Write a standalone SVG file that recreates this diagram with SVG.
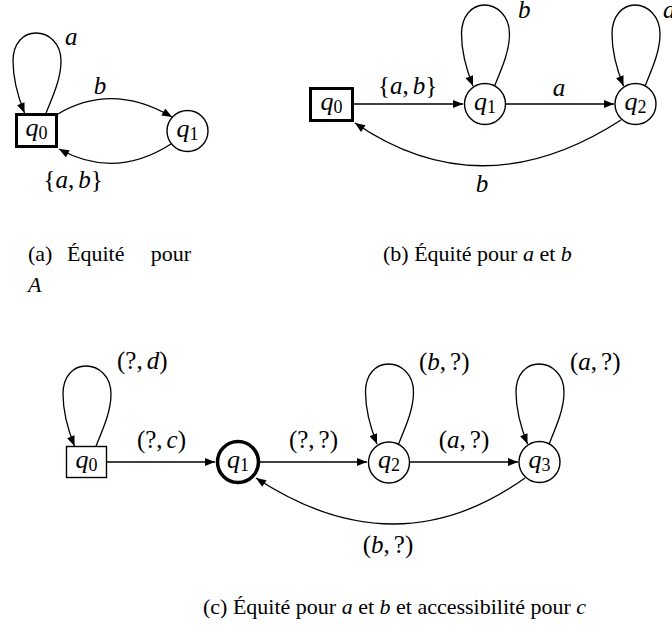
<svg xmlns="http://www.w3.org/2000/svg" width="672" height="639" viewBox="0 0 672 639" font-family="Liberation Serif, Times New Roman, serif">
<style>
text{font-family:'Liberation Serif','Times New Roman',serif;fill:#000}
.lb{font-size:25px}
.nd{font-size:26px}
.cap{font-size:22px}
.i{font-style:italic}
.st{fill:#fff;stroke:#000;stroke-width:1.4}
.init{fill:#fff;stroke:#000;stroke-width:3}
.acc{fill:#fff;stroke:#000;stroke-width:3.5}
.e{fill:none;stroke:#000;stroke-width:1.3;marker-end:url(#ah)}
</style>
<defs>
<marker id="ah" viewBox="0 0 10 8" refX="10" refY="4" markerWidth="11" markerHeight="8" markerUnits="userSpaceOnUse" orient="auto">
<path d="M0,0 L10,4 L0,8 z" fill="#000"/>
</marker>
</defs>
<rect width="672" height="639" fill="#fff"/>
<g id="connectors">
<path class="e" d="M 46 113 C 53.5 95, 61 78, 61 61 C 61 43, 48.5 33, 36 33 C 23.5 33, 13 43, 13 61 C 13 78, 18.5 98, 24.5 113"/>
<path class="e" d="M 58 114 Q 112 82 172 117"/>
<path class="e" d="M 171 144 Q 115 180 59 149"/>
<path class="e" d="M 354 104 L 463 104"/>
<path class="e" d="M 506 104 L 614 104"/>
<path class="e" d="M 494.5 86 C 502 68, 509.5 51, 509.5 34 C 509.5 16, 497 5, 484.5 5 C 472 5, 461.5 16, 461.5 34 C 461.5 51, 467 71, 473 86"/>
<path class="e" d="M 645 86 C 652.5 68, 660 51, 660 34 C 660 16, 647.5 5, 635 5 C 622.5 5, 612 16, 612 34 C 612 51, 617.5 71, 623.5 86"/>
<path class="e" d="M 621 120 Q 482 210 355 123"/>
<path class="e" d="M 96 446 C 103.5 428, 111 411, 111 394 C 111 376, 98.5 366, 86 366 C 73.5 366, 63 376, 63 394 C 63 411, 68.5 431, 74.5 446"/>
<path class="e" d="M 107 462 L 215 462"/>
<path class="e" d="M 259 462 L 367 462"/>
<path class="e" d="M 410 462 L 518 462"/>
<path class="e" d="M 398.5 444 C 406 426, 413.5 409, 413.5 392 C 413.5 374, 401 364, 388.5 364 C 376 364, 365.5 374, 365.5 392 C 365.5 409, 371 429, 377 444"/>
<path class="e" d="M 549 444 C 556.5 426, 564 409, 564 392 C 564 374, 551.5 364, 539 364 C 526.5 364, 516 374, 516 392 C 516 409, 521.5 429, 527.5 444"/>
<path class="e" d="M 525 478 Q 396 570 256 478"/>
</g>
<g id="edge-labels" class="lb">
<text x="65" y="45" class="i">a</text>
<text x="100" y="94" text-anchor="middle" class="i">b</text>
<text x="73" y="188" text-anchor="middle">{<tspan class="i">a</tspan>,<tspan class="i" dx="4">b</tspan>}</text>
<text x="407.5" y="94" text-anchor="middle">{<tspan class="i">a</tspan>,<tspan class="i" dx="4">b</tspan>}</text>
<text x="559" y="96" text-anchor="middle" class="i">a</text>
<text x="518" y="18" class="i">b</text>
<text x="663" y="18" class="i">a</text>
<text x="482" y="192" text-anchor="middle" class="i">b</text>
<text x="117" y="369">(?,<tspan class="i" dx="4">d</tspan>)</text>
<text x="161.5" y="448" text-anchor="middle">(?,<tspan class="i" dx="4">c</tspan>)</text>
<text x="313.5" y="448" text-anchor="middle">(?,<tspan dx="4">?</tspan>)</text>
<text x="464" y="448" text-anchor="middle">(<tspan class="i">a</tspan>,<tspan dx="4">?</tspan>)</text>
<text x="419" y="370">(<tspan class="i">b</tspan>,<tspan dx="4">?</tspan>)</text>
<text x="570" y="370">(<tspan class="i">a</tspan>,<tspan dx="4">?</tspan>)</text>
<text x="388" y="553" text-anchor="middle">(<tspan class="i">b</tspan>,<tspan dx="4">?</tspan>)</text>
</g>
<g id="a-q0"><rect class="init" x="16.5" y="114.5" width="40" height="32"/><text class="nd" x="36.5" y="136" text-anchor="middle"><tspan class="i">q</tspan><tspan font-size="18" dy="3">0</tspan></text></g>
<g id="a-q1"><circle class="st" cx="187.5" cy="131" r="20.5"/><text class="nd" x="187.5" y="136.5" text-anchor="middle"><tspan class="i">q</tspan><tspan font-size="18" dy="3">1</tspan></text></g>
<g id="b-q0"><rect class="init" x="310.5" y="88.5" width="42" height="32"/><text class="nd" x="331.5" y="110" text-anchor="middle"><tspan class="i">q</tspan><tspan font-size="18" dy="3">0</tspan></text></g>
<g id="b-q1"><circle class="st" cx="485" cy="104" r="20.5"/><text class="nd" x="485" y="109.5" text-anchor="middle"><tspan class="i">q</tspan><tspan font-size="18" dy="3">1</tspan></text></g>
<g id="b-q2"><circle class="st" cx="635.5" cy="104" r="20.5"/><text class="nd" x="635.5" y="109.5" text-anchor="middle"><tspan class="i">q</tspan><tspan font-size="18" dy="3">2</tspan></text></g>
<g id="c-q0"><rect class="st" x="66.5" y="446.5" width="40" height="31"/><text class="nd" x="86.5" y="467.5" text-anchor="middle"><tspan class="i">q</tspan><tspan font-size="18" dy="3">0</tspan></text></g>
<g id="c-q1"><circle class="acc" cx="238" cy="462" r="20.5"/><text class="nd" x="238" y="467.5" text-anchor="middle"><tspan class="i">q</tspan><tspan font-size="18" dy="3">1</tspan></text></g>
<g id="c-q2"><circle class="st" cx="389" cy="462.5" r="20.5"/><text class="nd" x="389" y="468" text-anchor="middle"><tspan class="i">q</tspan><tspan font-size="18" dy="3">2</tspan></text></g>
<g id="c-q3"><circle class="st" cx="539.5" cy="462" r="20.5"/><text class="nd" x="539.5" y="467.5" text-anchor="middle"><tspan class="i">q</tspan><tspan font-size="18" dy="3">3</tspan></text></g>
<g id="captions" class="cap">
<text x="28" y="261">(a)</text>
<text x="67" y="261">Équité</text>
<text x="191" y="261" text-anchor="end">pour</text>
<text x="28" y="292" class="i">A</text>
<text x="383" y="261">(b) Équité pour <tspan class="i">a</tspan> et <tspan class="i">b</tspan></text>
<text x="203" y="614">(c) Équité pour <tspan class="i">a</tspan> et <tspan class="i">b</tspan> et accessibilité pour <tspan class="i">c</tspan></text>
</g>
</svg>
